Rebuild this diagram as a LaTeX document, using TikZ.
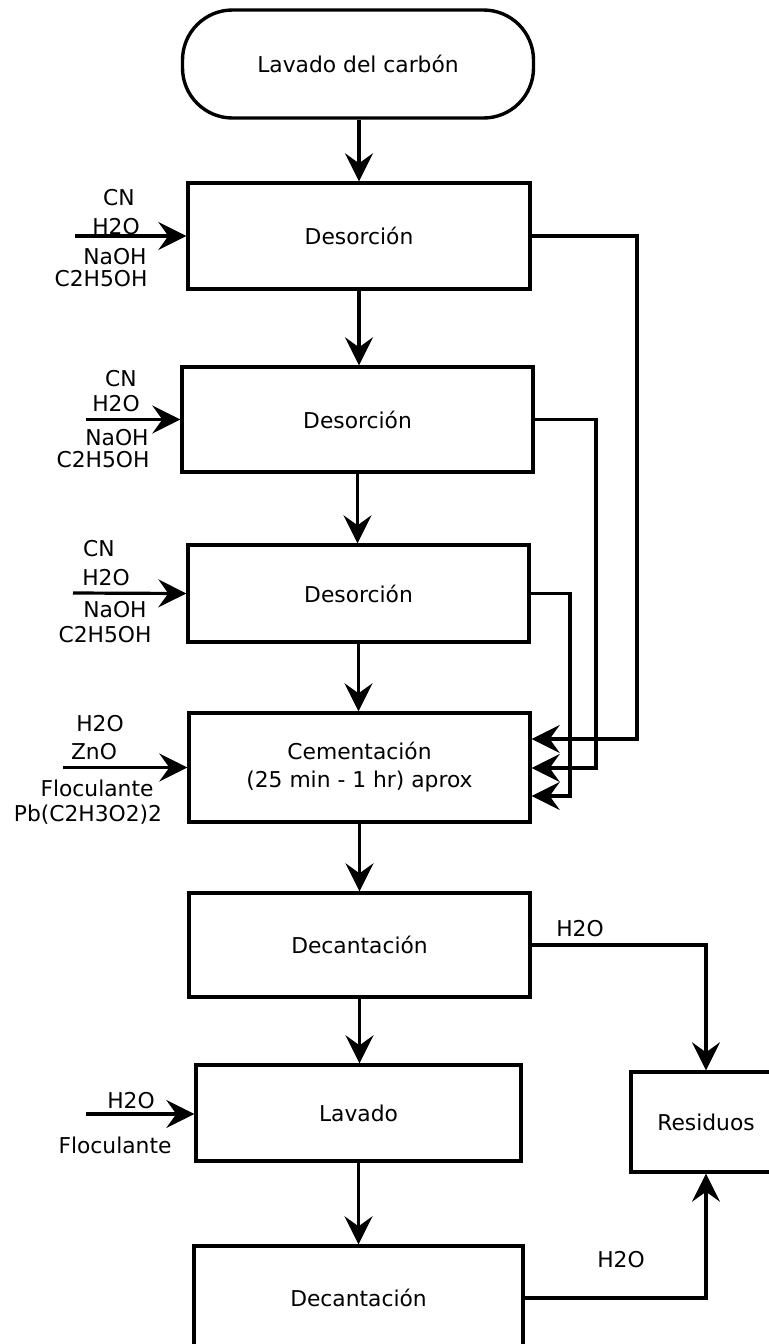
\documentclass[tikz,border=0pt]{standalone}
\usepackage{fontspec}
\setmainfont{DejaVu Sans}
\usetikzlibrary{arrows.meta,calc}
\tikzset{
  box/.style={draw, line width=1.7pt, fill=white, inner sep=0pt, align=center, font=\fontsize{10.9pt}{14pt}\selectfont},
  term/.style={box, rounded corners=25pt},
  lbl/.style={inner sep=0pt, font=\fontsize{10.9pt}{13pt}\selectfont},
  arr/.style={line width=1.6pt, -{Stealth[length=14pt,width=14pt,inset=5pt]}},
  ln/.style={line width=1.6pt}
}
\begin{document}
\begin{tikzpicture}[x=0.5pt,y=-0.5pt]
\useasboundingbox (0,0) rectangle (769,1344);
\clip (0,0) rectangle (769,1344);
% main column
\node[term, minimum width=175.5pt, minimum height=54pt] (t) at (358,64) {Lavado del carbón};
\node[box, minimum width=171pt, minimum height=53pt] (d1) at (359,236) {Desorción};
\node[box, minimum width=175.5pt, minimum height=52.5pt] (d2) at (357.5,419.5) {Desorción};
\node[box, minimum width=170.5pt, minimum height=48.5pt] (d3) at (358.5,593.5) {Desorción};
\node[box, minimum width=170.5pt, minimum height=54.5pt] (cem) at (359.5,767.5) {Cementación\\(25 min - 1 hr) aprox};
\node[box, minimum width=170.5pt, minimum height=52pt] (dec1) at (359.5,945) {Decantación};
\node[box, minimum width=162.5pt, minimum height=48pt] (lav) at (358.5,1113) {Lavado};
\node[box, minimum width=164.5pt, minimum height=52pt] (dec2) at (358.5,1298) {Decantación};
\node[box, minimum width=75pt, minimum height=50pt] (res) at (706,1122) {Residuos};

% vertical flow
\draw[arr] (t.south -| d1.north) -- (d1.north);
\draw[arr] (d1.south) -- (d1.south |- d2.north);
\draw[arr] (d2.south) -- (d2.south |- d3.north);
\draw[arr] (d3.south) -- (d3.south |- cem.north);
\draw[arr] (cem.south) -- (cem.south |- dec1.north);
\draw[arr] (dec1.south) -- (dec1.south |- lav.north);
\draw[arr] (lav.south) -- (lav.south |- dec2.north);

% recycle lines into cementacion
\draw[arr] (d1.east) -- (637,236) |- ([yshift=14.25pt]cem.east);
\draw[arr] (d2.east) -- (596,419.5) |- ([yshift=-0.25pt]cem.east);
\draw[arr] (d3.east) -- (570,593.5) |- ([yshift=-14.25pt]cem.east);

% to residuos
\draw[arr] (dec1.east) -| (res.north);
\draw[arr] (dec2.east) -| (res.south);
\node[lbl] (wr1) at (580,929) {H2O};
\node[lbl] (wr2) at (621,1260) {H2O};

% left inputs
\coordinate (i1) at (75,236);
\coordinate (i2) at (86,419.5);
\coordinate (i3) at (73,593);
\coordinate (i4) at (63,767.5);
\coordinate (i5) at (86,1114);
\draw[arr] (i1) -- (d1.west);
\draw[arr] (i2) -- (d2.west);
\draw[arr] (i3) -- (d3.west);
\draw[arr] (i4) -- (cem.west);
\draw[arr] (i5) -- ([yshift=-0.5pt]lav.west);

\node[lbl] (a1) at (119,198) {CN};
\node[lbl] (a2) at (116,227) {H2O};
\node[lbl] (a3) at (115,257) {NaOH};
\node[lbl] (a4) at (101,279) {C2H5OH};

\node[lbl] (b1) at (121,379) {CN};
\node[lbl] (b2) at (116,404) {H2O};
\node[lbl] (b3) at (117,438) {NaOH};
\node[lbl] (b4) at (103,460) {C2H5OH};

\node[lbl] (c1) at (99,549) {CN};
\node[lbl] (c2) at (106,578) {H2O};
\node[lbl] (c3) at (115,610) {NaOH};
\node[lbl] (c4) at (105,635) {C2H5OH};

\node[lbl] (e1) at (100,724) {H2O};
\node[lbl] (e2) at (94,752) {ZnO};
\node[lbl] (e3) at (97,788) {Floculante};
\node[lbl] (e4) at (88,815) {Pb(C2H3O2)2};

\node[lbl] (f1) at (131,1101) {H2O};
\node[lbl] (f2) at (115,1145) {Floculante};
\end{tikzpicture}
\end{document}
